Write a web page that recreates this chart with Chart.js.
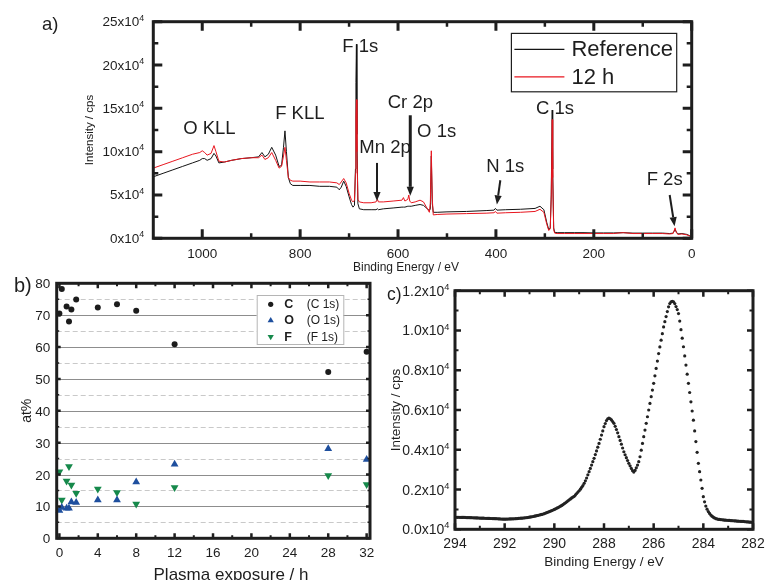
<!DOCTYPE html>
<html>
<head>
<meta charset="utf-8">
<script src="https://cdn.jsdelivr.net/npm/chart.js@4.4.0/dist/chart.umd.min.js"></script>
<style>
  body { margin: 0; background: #fff; }
  #wrap { position: relative; width: 765px; height: 580px; overflow: hidden; background: #fff; }
  #wrap canvas { position: absolute; }
</style>
</head>
<body>
<div id="wrap">
  <canvas id="survey" width="765" height="280" style="left:0;top:0"></canvas>
  <canvas id="atoms" width="380" height="310" style="left:0;top:270px"></canvas>
  <canvas id="carbon" width="385" height="310" style="left:380px;top:270px"></canvas>
</div>
<script>
// a) survey spectra, intensity in units of 1e4 cps
const surveyEnergy = [
  1100, 1080, 1060, 1040, 1020, 1005, 1000, 995, 990, 982,
  976, 972, 966, 955, 940, 920, 900, 885, 878, 872,
  865, 858, 850, 843, 838, 834, 831, 828, 824, 820,
  815, 800, 780, 760, 740, 725, 720, 716, 711, 706,
  700, 695, 692, 689, 687, 686, 685, 684, 682, 679,
  670, 655, 645, 642, 640, 630, 610, 592, 589, 586,
  580, 578, 576, 573, 565, 555, 548, 540, 536, 534,
  532, 530, 528, 520, 500, 460, 420, 404, 401, 398,
  380, 350, 320, 310, 302, 296, 292, 289, 287, 285,
  284, 282, 280, 275, 260, 240, 220, 200, 180, 160,
  140, 120, 100, 80, 60, 45, 38, 34, 31, 28,
  20, 10, 4, 0
];
const surveyReference = [
  7.1, 7.5, 7.9, 8.3, 8.7, 9.0, 9.2, 9.2, 9.0, 9.2,
  9.8, 9.5, 8.7, 8.8, 9.0, 9.2, 9.3, 9.4, 9.9, 9.4,
  9.7, 10.5, 9.6, 8.3, 8.4, 10.5, 12.4, 10.0, 7.0, 6.3,
  6.1, 6.1, 6.1, 6.0, 6.0, 5.9, 5.6, 5.9, 6.6, 6.0,
  4.8, 3.9, 3.6, 3.8, 8.0, 18.0, 22.4, 12.0, 4.0, 3.4,
  3.3, 3.3, 3.3, 3.4, 3.3, 3.4, 3.5, 3.6, 3.6, 3.6,
  3.7, 3.7, 3.7, 3.7, 3.8, 3.9, 3.8, 3.4, 3.2, 3.4,
  9.5, 4.0, 3.0, 3.0, 3.05, 3.1, 3.2, 3.25, 3.45, 3.25,
  3.3, 3.35, 3.45, 3.7, 3.3, 1.8, 1.0, 1.2, 5.0, 14.8,
  8.0, 1.2, 0.7, 0.65, 0.65, 0.65, 0.65, 0.62, 0.62, 0.62,
  0.65, 0.6, 0.6, 0.6, 0.6, 0.55, 0.6, 1.0, 0.7, 0.5,
  0.55, 0.45, 0.3, 0.1
];
const surveyPlasma12h = [
  8.1, 8.5, 8.9, 9.3, 9.7, 9.9, 10.1, 9.9, 9.6, 9.8,
  10.7, 10.0, 8.9, 8.8, 9.0, 9.2, 9.3, 9.3, 9.6, 9.1,
  9.3, 9.9, 9.0, 8.1, 8.3, 9.5, 10.5, 9.0, 7.0, 6.7,
  6.6, 6.6, 6.5, 6.5, 6.5, 6.4, 6.2, 6.5, 6.9, 6.4,
  5.2, 4.4, 4.2, 4.4, 7.5, 14.0, 16.0, 10.0, 4.5, 4.2,
  4.1, 4.1, 4.2, 4.5, 4.2, 4.2, 4.3, 4.4, 4.7, 4.3,
  4.5, 5.0, 4.3, 4.1, 4.2, 4.4, 4.2, 3.4, 3.0, 4.0,
  10.1, 4.5, 2.7, 2.75, 2.8, 2.85, 2.9, 2.95, 3.1, 2.9,
  2.95, 3.0, 3.1, 3.35, 3.0, 1.6, 0.9, 1.1, 4.5, 13.7,
  7.0, 1.0, 0.6, 0.55, 0.55, 0.55, 0.55, 0.55, 0.55, 0.55,
  0.65, 0.55, 0.55, 0.55, 0.55, 0.5, 0.55, 1.2, 0.6, 0.45,
  0.5, 0.4, 0.25, 0.1
];
const surveyXTicks = [0, 200, 400, 600, 800, 1000];
const surveyYTicks = [0, 5, 10, 15, 20, 25];

// b) composition vs plasma exposure
const exposureHours = [0, 0.25, 0.75, 1, 1.25, 1.75, 4, 6, 8, 12, 28, 32];
const carbonAt   = [70.5, 78.2, 72.7, 68.0, 71.8, 74.9, 72.4, 73.4, 71.4, 60.9, 52.2, 58.5];
const oxygenAt   = [8.7, 9.7, 9.4, 9.4, 11.4, 11.2, 12.0, 12.0, 17.7, 23.2, 28.1, 24.7];
const fluorineAt = [20.9, 12.0, 18.0, 22.5, 16.7, 14.1, 15.5, 14.4, 10.8, 15.9, 19.7, 16.9];
const elementNames = ['C', 'O', 'F'];
const elementLines = ['(C 1s)', '(O 1s)', '(F 1s)'];
const exposureTicks = [0, 4, 8, 12, 16, 20, 24, 28, 32];
const atTicks = [0, 10, 20, 30, 40, 50, 60, 70, 80];

// c) C 1s high resolution, 0.05 eV steps from 294 eV down to 282 eV
const c1sStart = 294;
const c1sStep = 0.05;
const c1sCounts = [
  610, 605, 600, 605, 600, 598, 595, 600, 598, 592,
  590, 588, 585, 583, 580, 578, 575, 572, 570, 568,
  565, 562, 560, 558, 555, 552, 550, 548, 545, 542,
  540, 538, 535, 532, 530, 525, 520, 518, 515, 512,
  510, 512, 515, 518, 520, 522, 525, 528, 530, 535,
  540, 548, 555, 558, 560, 568, 575, 582, 590, 600,
  610, 620, 630, 645, 660, 675, 690, 705, 720, 735,
  750, 770, 790, 815, 840, 865, 890, 915, 940, 970,
  1000, 1030, 1060, 1095, 1130, 1165, 1200, 1245, 1290, 1335,
  1380, 1430, 1480, 1530, 1580, 1620, 1660, 1730, 1800, 1870,
  1940, 2020, 2110, 2200, 2310, 2440, 2580, 2740, 2900, 3060,
  3230, 3400, 3570, 3760, 3940, 4130, 4320, 4530, 4740, 4950,
  5160, 5320, 5470, 5560, 5590, 5560, 5500, 5420, 5330, 5180,
  5020, 4850, 4660, 4470, 4280, 4090, 3900, 3750, 3600, 3460,
  3320, 3190, 3060, 2950, 2880, 2960, 3090, 3230, 3400, 3650,
  3980, 4320, 4660, 4990, 5330, 5660, 6000, 6330, 6670, 7000,
  7340, 7720, 8090, 8460, 8840, 9170, 9510, 9840, 10180, 10440,
  10700, 10950, 11190, 11350, 11440, 11460, 11440, 11350, 11200, 11050,
  10850, 10470, 10040, 9610, 9180, 8720, 8260, 7800, 7340, 6880,
  6410, 5950, 5490, 4950, 4410, 3870, 3320, 2900, 2480, 2060,
  1640, 1380, 1170, 1010, 890, 800, 720, 660, 610, 570,
  540, 520, 500, 495, 490, 480, 470, 465, 460, 455,
  450, 445, 440, 435, 430, 425, 420, 415, 410, 405,
  400, 398, 395, 390, 380, 375, 370, 365, 360, 355,
  350
];
const c1sXTicks = [294, 292, 290, 288, 286, 284, 282];
const c1sYTicks = [0, 2000, 4000, 6000, 8000, 10000, 12000];

const FAMILY = '"Liberation Sans", Arial, Helvetica, sans-serif';
const INK = '#1e1e1e';
const font = (size, bold) => (bold ? 'bold ' : '') + size + 'px ' + FAMILY;

// "mant x10^4" right aligned at x
function sciLabel(ctx, mant, x, y, size) {
  ctx.textAlign = 'right';
  ctx.textBaseline = 'alphabetic';
  ctx.font = font(size * 0.66);
  const w = ctx.measureText('4').width;
  ctx.fillText('4', x, y - size * 0.42);
  ctx.font = font(size);
  ctx.fillText(mant + 'x10', x - w, y);
}

// inward ticks on both opposite sides + heavy box
function drawFrame(chart, spec) {
  const { ctx, chartArea: a, scales } = chart;
  ctx.save();
  ctx.strokeStyle = INK;
  for (const t of spec.ticks) {
    ctx.lineWidth = t.width;
    const s = scales[t.axis];
    for (const v of t.values) {
      const p = s.getPixelForValue(v);
      ctx.beginPath();
      if (t.axis === 'x') {
        ctx.moveTo(p, a.bottom); ctx.lineTo(p, a.bottom - t.len);
        ctx.moveTo(p, a.top); ctx.lineTo(p, a.top + t.len);
      } else {
        ctx.moveTo(a.left, p); ctx.lineTo(a.left + t.len, p);
        ctx.moveTo(a.right, p); ctx.lineTo(a.right - t.len, p);
      }
      ctx.stroke();
    }
  }
  ctx.lineWidth = spec.frame;
  ctx.strokeRect(a.left, a.top, a.right - a.left, a.bottom - a.top);
  ctx.restore();
}

function arrow(ctx, x0, y0, x1, y1, w) {
  const ang = Math.atan2(y1 - y0, x1 - x0);
  const head = 9, half = 3.6;
  const bx = x1 - head * Math.cos(ang), by = y1 - head * Math.sin(ang);
  ctx.lineWidth = w;
  ctx.beginPath(); ctx.moveTo(x0, y0); ctx.lineTo(bx, by); ctx.stroke();
  ctx.beginPath();
  ctx.moveTo(x1, y1);
  ctx.lineTo(bx + half * Math.sin(ang), by - half * Math.cos(ang));
  ctx.lineTo(bx - half * Math.sin(ang), by + half * Math.cos(ang));
  ctx.closePath(); ctx.fill();
}

const baseOptions = (padding) => ({
  responsive: false,
  animation: false,
  events: [],
  devicePixelRatio: 1,
  layout: { padding },
  plugins: { legend: { display: false }, tooltip: { enabled: false } }
});

// ---------- a) survey ----------
const surveyNotes = [
  { text: 'O KLL', e: 1039, i: 12.0 },
  { text: 'F KLL', e: 851, i: 13.8 },
  { text: 'F 1s', e: 714, i: 21.5 },
  { text: 'Mn 2p', e: 679, i: 9.9 },
  { text: 'Cr 2p', e: 621, i: 15.0 },
  { text: 'O 1s', e: 561, i: 11.7 },
  { text: 'N 1s', e: 420, i: 7.7 },
  { text: 'C 1s', e: 318, i: 14.4 },
  { text: 'F 2s', e: 92, i: 6.1 }
];
const surveyArrows = [
  { from: [643, 8.7], to: [643, 4.3], w: 2 },
  { from: [575, 14.2], to: [575, 4.9], w: 3 },
  { from: [391, 6.7], to: [398, 3.9], w: 2 },
  { from: [45, 5.0], to: [35, 1.4], w: 2 }
];

const surveyDecor = {
  id: 'surveyDecor',
  afterDatasetsDraw(chart) {
    const { ctx, chartArea: a, scales: { x, y } } = chart;
    drawFrame(chart, {
      frame: 3,
      ticks: [
        { axis: 'x', values: surveyXTicks, len: 9, width: 3 },
        { axis: 'x', values: [100, 300, 500, 700, 900], len: 5, width: 2.5 },
        { axis: 'y', values: surveyYTicks, len: 9, width: 3 },
        { axis: 'y', values: [2.5, 7.5, 12.5, 17.5, 22.5], len: 5, width: 2.5 }
      ]
    });
    ctx.save();
    ctx.fillStyle = INK;
    ctx.strokeStyle = INK;
    // tick labels
    ctx.font = font(13.5);
    ctx.textAlign = 'center';
    ctx.textBaseline = 'alphabetic';
    surveyXTicks.forEach(v => ctx.fillText(String(v), x.getPixelForValue(v), a.bottom + 20));
    surveyYTicks.forEach(v => sciLabel(ctx, String(v), a.left - 9, y.getPixelForValue(v) + 4.5, 13.5));
    // axis titles
    ctx.font = font(12);
    ctx.textAlign = 'center';
    ctx.fillText('Binding Energy / eV', 406, a.bottom + 32.5);
    ctx.save();
    ctx.translate(90, (a.top + a.bottom) / 2);
    ctx.rotate(-Math.PI / 2);
    ctx.font = font(11.5);
    ctx.textBaseline = 'middle';
    ctx.fillText('Intensity / cps', 0, 0);
    ctx.restore();
    // peak labels and arrows
    ctx.font = font(18.5);
    ctx.textAlign = 'left';
    ctx.textBaseline = 'alphabetic';
    surveyNotes.forEach(n => ctx.fillText(n.text, x.getPixelForValue(n.e), y.getPixelForValue(n.i)));
    surveyArrows.forEach(r => arrow(ctx,
      x.getPixelForValue(r.from[0]), y.getPixelForValue(r.from[1]),
      x.getPixelForValue(r.to[0]), y.getPixelForValue(r.to[1]), r.w));
    // panel letter
    ctx.font = font(18.5);
    ctx.fillText('a)', 42, 30);
    // legend
    const bx = a.right - 15, by = a.top + 11.7, bw = 165.3, bh = 58.4;
    ctx.fillStyle = '#fff';
    ctx.fillRect(bx - bw, by, bw, bh);
    ctx.lineWidth = 1.2;
    ctx.strokeStyle = INK;
    ctx.strokeRect(bx - bw, by, bw, bh);
    const order = [0, 1];
    order.forEach((k, row) => {
      const ds = chart.data.datasets[k];
      const ly = by + 16 + row * 27.4;
      ctx.strokeStyle = ds.borderColor;
      ctx.lineWidth = 1.2;
      ctx.beginPath(); ctx.moveTo(bx - bw + 3, ly); ctx.lineTo(bx - bw + 53, ly); ctx.stroke();
      ctx.fillStyle = INK;
      ctx.font = font(22);
      ctx.textBaseline = 'middle';
      ctx.fillText(ds.label, bx - bw + 60, ly + 1);
    });
    ctx.restore();
  }
};

new Chart(document.getElementById('survey'), {
  type: 'line',
  data: {
    datasets: [
      {
        label: 'Reference',
        data: surveyEnergy.map((e, k) => ({ x: e, y: surveyReference[k] })),
        borderColor: '#141414', borderWidth: 1, pointRadius: 0, order: 1
      },
      {
        label: '12 h',
        data: surveyEnergy.map((e, k) => ({ x: e, y: surveyPlasma12h[k] })),
        borderColor: '#e8161f', borderWidth: 1, pointRadius: 0, order: 0
      }
    ]
  },
  options: Object.assign(baseOptions({ left: 153.3, right: 73.3, top: 21.7, bottom: 41.7 }), {
    scales: {
      x: { type: 'linear', reverse: true, min: 0, max: 1100, display: false },
      y: { type: 'linear', min: 0, max: 25, display: false }
    }
  }),
  plugins: [surveyDecor]
});

// ---------- b) at% vs exposure ----------
const atomsDecor = {
  id: 'atomsDecor',
  beforeDatasetsDraw(chart) {
    const { ctx, chartArea: a, scales: { y } } = chart;
    ctx.save();
    ctx.lineWidth = 1;
    for (let v = 5; v < 80; v += 5) {
      const p = Math.round(y.getPixelForValue(v)) + 0.5;
      const major = v % 10 === 0;
      ctx.strokeStyle = major ? '#8d8d8d' : '#c9c9c9';
      ctx.setLineDash(major ? [] : [5, 3]);
      ctx.beginPath(); ctx.moveTo(a.left, p); ctx.lineTo(a.right, p); ctx.stroke();
    }
    ctx.restore();
  },
  afterDatasetsDraw(chart) {
    const { ctx, chartArea: a, scales: { x, y } } = chart;
    drawFrame(chart, {
      frame: 3,
      ticks: [
        { axis: 'x', values: exposureTicks, len: 5, width: 2.5 },
        { axis: 'x', values: [2, 6, 10, 14, 18, 22, 26, 30], len: 3, width: 2 },
        { axis: 'y', values: atTicks, len: 4, width: 2.5 },
        { axis: 'y', values: [5, 15, 25, 35, 45, 55, 65, 75], len: 2.5, width: 1.5 }
      ]
    });
    ctx.save();
    ctx.fillStyle = INK;
    ctx.font = font(13.5);
    ctx.textAlign = 'center';
    ctx.textBaseline = 'alphabetic';
    exposureTicks.forEach(v => ctx.fillText(String(v), x.getPixelForValue(v), a.bottom + 18.5));
    ctx.textAlign = 'right';
    atTicks.forEach(v => ctx.fillText(String(v), a.left - 6.5, y.getPixelForValue(v) + 5));
    ctx.textAlign = 'center';
    ctx.font = font(17);
    ctx.fillText('Plasma exposure / h', 231, 310);
    ctx.save();
    ctx.translate(27, (a.top + a.bottom) / 2);
    ctx.rotate(-Math.PI / 2);
    ctx.font = font(14);
    ctx.textBaseline = 'middle';
    ctx.fillText('at%', 0, 0);
    ctx.restore();
    ctx.textAlign = 'left';
    ctx.font = font(20);
    ctx.fillText('b)', 14, 21.7);
    // legend
    const lx = a.left + 200, ly = a.top + 11.7, lw = 86.6, lh = 49;
    ctx.fillStyle = '#fff';
    ctx.fillRect(lx, ly, lw, lh);
    ctx.strokeStyle = '#b5b5b5';
    ctx.lineWidth = 1;
    ctx.strokeRect(lx + 0.5, ly + 0.5, lw, lh);
    chart.data.datasets.forEach((ds, k) => {
      const cy = ly + 9.3 + k * 16.2;
      ctx.fillStyle = ds.backgroundColor;
      Chart.helpers.drawPoint(ctx, {
        pointStyle: ds.pointStyle, rotation: ds.pointRotation || 0,
        radius: k === 0 ? 2.6 : 3.6, borderWidth: 0
      }, lx + 14, cy);
      ctx.fillStyle = INK;
      ctx.textBaseline = 'middle';
      ctx.font = font(12.5, true);
      ctx.fillText(elementNames[k], lx + 27.5, cy + 0.5);
      ctx.font = font(12);
      ctx.fillText(elementLines[k], lx + 50, cy + 0.5);
    });
    ctx.restore();
  }
};

const scatterSet = (vals, color, style, radius, rotation) => ({
  data: exposureHours.map((h, k) => ({ x: h, y: vals[k] })),
  backgroundColor: color, borderColor: color, borderWidth: 0,
  pointStyle: style, pointRadius: radius, pointRotation: rotation, clip: false
});

new Chart(document.getElementById('atoms'), {
  type: 'scatter',
  data: {
    datasets: [
      scatterSet(carbonAt, '#1c1c1c', 'circle', 3, 0),
      scatterSet(oxygenAt, '#1e4f9e', 'triangle', 4.5, 0),
      scatterSet(fluorineAt, '#16894b', 'triangle', 4.5, 180)
    ]
  },
  options: Object.assign(baseOptions({ left: 56.7, right: 10, top: 13.3, bottom: 41.7 }), {
    scales: {
      x: { type: 'linear', min: -0.28, max: 32.35, display: false },
      y: { type: 'linear', min: 0, max: 80, display: false }
    }
  }),
  plugins: [atomsDecor]
});

// ---------- c) C 1s detail ----------
const carbonDecor = {
  id: 'carbonDecor',
  afterDatasetsDraw(chart) {
    const { ctx, chartArea: a, scales: { x, y } } = chart;
    drawFrame(chart, {
      frame: 3,
      ticks: [
        { axis: 'x', values: c1sXTicks, len: 6, width: 2.5 },
        { axis: 'x', values: [293, 291, 289, 287, 285, 283], len: 3.5, width: 2 },
        { axis: 'y', values: c1sYTicks, len: 6, width: 2.5 },
        { axis: 'y', values: [1000, 3000, 5000, 7000, 9000, 11000], len: 3.5, width: 2 }
      ]
    });
    ctx.save();
    ctx.fillStyle = INK;
    ctx.font = font(14);
    ctx.textAlign = 'center';
    ctx.textBaseline = 'alphabetic';
    c1sXTicks.forEach(v => ctx.fillText(String(v), x.getPixelForValue(v), a.bottom + 19));
    c1sYTicks.forEach(v => sciLabel(ctx, (v / 10000).toFixed(1), a.left - 5.5, y.getPixelForValue(v) + 5, 14));
    ctx.textAlign = 'center';
    ctx.font = font(13.5);
    ctx.fillText('Binding Energy / eV', (a.left + a.right) / 2, a.bottom + 37);
    ctx.save();
    ctx.translate(16.5, (a.top + a.bottom) / 2);
    ctx.rotate(-Math.PI / 2);
    ctx.textBaseline = 'middle';
    ctx.fillText('Intensity / cps', 0, 0);
    ctx.restore();
    ctx.textAlign = 'left';
    ctx.font = font(17.5);
    ctx.fillText('c)', 7, 30);
    ctx.restore();
  }
};

new Chart(document.getElementById('carbon'), {
  type: 'scatter',
  data: {
    datasets: [{
      data: c1sCounts.map((c, k) => ({ x: c1sStart - k * c1sStep, y: c })),
      backgroundColor: '#222', borderWidth: 0, pointRadius: 1.6
    }]
  },
  options: Object.assign(baseOptions({ left: 75, right: 12, top: 20.7, bottom: 50.7 }), {
    scales: {
      x: { type: 'linear', reverse: true, min: 282, max: 294, display: false },
      y: { type: 'linear', min: 0, max: 12000, display: false }
    }
  }),
  plugins: [carbonDecor]
});
</script>
</body>
</html>
